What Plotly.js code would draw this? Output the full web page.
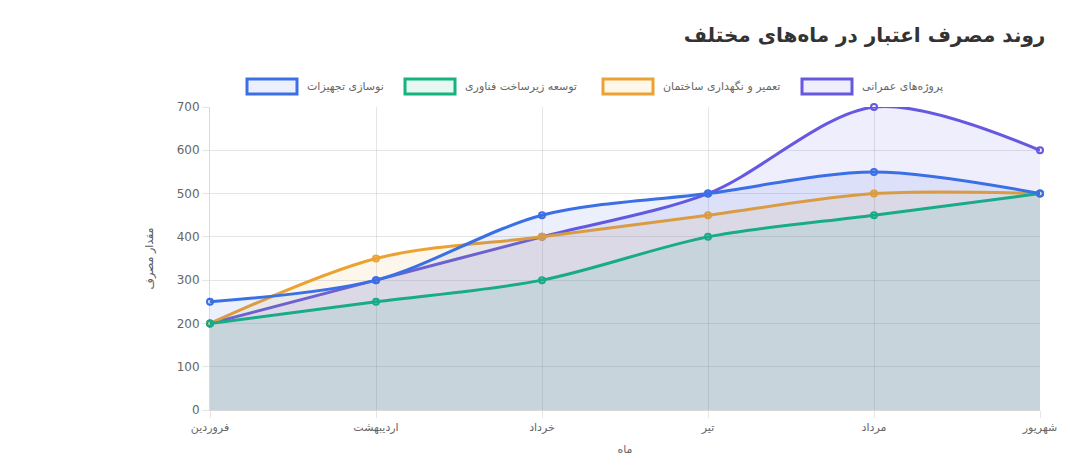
<!DOCTYPE html>
<html>
<head>
<meta charset="utf-8">
<script src="https://cdn.plot.ly/plotly-3.0.1.min.js"></script>
<style>html,body{margin:0;padding:0;background:#fff;}#chart{width:1070px;height:468px;}</style>
</head>
<body>
<div id="chart"></div>
<script>
const months = ['فروردین', 'اردیبهشت', 'خرداد', 'تیر', 'مرداد', 'شهریور'];
const seriesNames = ['پروژه‌های عمرانی', 'تعمیر و نگهداری ساختمان', 'توسعه زیرساخت فناوری', 'نوسازی تجهیزات'];
const civilProjects = [200, 300, 400, 500, 700, 600];
const buildingMaintenance = [200, 350, 400, 450, 500, 500];
const techInfrastructure = [200, 250, 300, 400, 450, 500];
const equipmentRenewal = [250, 300, 450, 500, 550, 500];
const yTicks = [0, 100, 200, 300, 400, 500, 600, 700];

const seriesValues = [civilProjects, buildingMaintenance, techInfrastructure, equipmentRenewal];
const lineColors = ['#6658e0', '#eba232', '#14b37f', '#3b6fe6'];
const fillColors = ['rgba(102,88,224,0.1)', 'rgba(235,162,50,0.1)', 'rgba(20,179,127,0.1)', 'rgba(59,111,230,0.1)'];

const FONT = 'Tahoma, "DejaVu Sans", sans-serif';

const traces = seriesValues.map((vals, i) => ({
  type: 'scatter',
  mode: 'lines+markers',
  name: seriesNames[i],
  x: months,
  y: vals,
  fill: 'tozeroy',
  fillcolor: fillColors[i],
  line: {color: lineColors[i], width: 3, shape: 'spline', smoothing: 0.9},
  marker: {size: 6, color: fillColors[i], line: {color: lineColors[i], width: 2}},
  cliponaxis: false,
  hoverinfo: 'none',
  showlegend: false
}));

// custom legend (Chart.js style boxes), right to left
const W = 1070, H = 468, L = 210, R = 30, T = 107, B = 58;
const pw = W - L - R, ph = H - T - B;
const px = v => (v - L) / pw;
const py = v => (H - B - v) / ph;
const boxLeft = [802, 603, 405, 247];
const shapes = [], annotations = [];
seriesNames.forEach((n, i) => {
  shapes.push({type: 'rect', xref: 'paper', yref: 'paper',
    x0: px(boxLeft[i]), x1: px(boxLeft[i] + 50), y0: py(94), y1: py(79),
    line: {color: lineColors[i], width: 3}, fillcolor: fillColors[i]});
  annotations.push({xref: 'paper', yref: 'paper', x: px(boxLeft[i] + 58), y: py(86.5),
    xanchor: 'left', yanchor: 'middle', showarrow: false, text: n,
    font: {family: FONT, size: 11, color: '#666'}});
});

const layout = {
  width: W, height: H,
  margin: {l: L, r: R, t: T, b: B},
  paper_bgcolor: '#fff', plot_bgcolor: '#fff',
  title: {text: '<b>روند مصرف اعتبار در ماه‌های مختلف</b>', xref: 'container', yref: 'container',
    x: 0.977, xanchor: 'right', y: 0.925, yanchor: 'middle',
    font: {family: FONT, size: 20, color: '#333'}},
  showlegend: false,
  xaxis: {
    type: 'category', range: [0, 5],
    showgrid: true, gridcolor: 'rgba(0,0,0,0.1)', gridwidth: 1,
    ticks: 'outside', ticklen: 7, tickcolor: 'rgba(0,0,0,0.1)',
    showline: true, linecolor: 'rgba(0,0,0,0.15)',
    zeroline: false,
    tickfont: {family: FONT, size: 11, color: '#666'},
    title: {text: 'ماه', font: {family: FONT, size: 11, color: '#666'}, standoff: 12}
  },
  yaxis: {
    range: [0, 700], tickvals: yTicks,
    showgrid: true, gridcolor: 'rgba(0,0,0,0.1)', gridwidth: 1,
    ticks: 'outside', ticklen: 7, tickcolor: 'rgba(0,0,0,0.1)',
    showline: true, linecolor: 'rgba(0,0,0,0.15)',
    zeroline: false,
    tickfont: {family: FONT, size: 12, color: '#666'},
    title: {text: 'مقدار مصرف', font: {family: FONT, size: 11, color: '#555'}, standoff: 20}
  },
  shapes: shapes,
  annotations: annotations
};

Plotly.newPlot('chart', traces, layout, {displayModeBar: false, staticPlot: true});
</script>
</body>
</html>
